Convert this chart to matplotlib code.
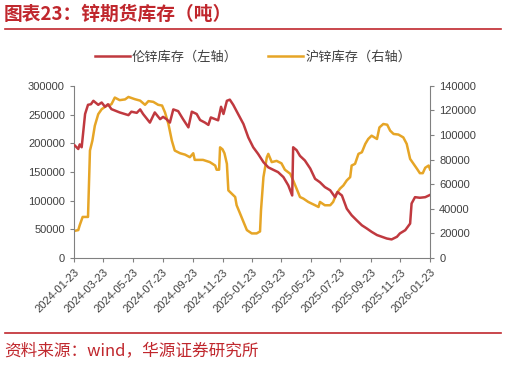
import numpy as np
import pandas as pd
import matplotlib
matplotlib.use('Agg')
import matplotlib.pyplot as plt
from matplotlib.lines import Line2D

plt.rcParams['font.family'] = ['Liberation Sans', 'Noto Sans CJK SC', 'DejaVu Sans']

# LME zinc stock (left axis)
lme_dates = ['2024-01-25', '2024-02-01', '2024-02-04', '2024-02-08', '2024-02-15', '2024-02-21',
             '2024-02-27', '2024-03-03', '2024-03-13', '2024-03-20', '2024-03-27', '2024-04-02',
             '2024-04-09', '2024-04-26', '2024-05-14', '2024-05-20', '2024-05-31', '2024-06-07',
             '2024-06-13', '2024-06-27', '2024-07-07', '2024-07-18', '2024-07-24', '2024-07-31',
             '2024-08-07', '2024-08-14', '2024-08-24', '2024-09-03', '2024-09-14', '2024-09-21',
             '2024-10-01', '2024-10-08', '2024-10-18', '2024-10-25', '2024-10-30', '2024-11-08',
             '2024-11-14', '2024-11-20', '2024-11-25', '2024-12-02', '2024-12-08', '2024-12-15',
             '2024-12-25', '2025-01-05', '2025-01-15', '2025-01-25', '2025-02-04', '2025-02-15',
             '2025-02-25', '2025-03-07', '2025-03-17', '2025-03-28', '2025-04-07', '2025-04-15',
             '2025-04-17', '2025-04-24', '2025-05-01', '2025-05-11', '2025-05-22', '2025-06-01',
             '2025-06-11', '2025-06-21', '2025-07-02', '2025-07-12', '2025-07-17', '2025-07-26',
             '2025-08-05', '2025-08-15', '2025-08-25', '2025-09-05', '2025-09-15', '2025-09-25',
             '2025-10-06', '2025-10-16', '2025-10-26', '2025-11-05', '2025-11-16', '2025-11-22',
             '2025-12-03', '2025-12-13', '2025-12-16', '2025-12-23', '2026-01-02', '2026-01-13',
             '2026-01-23']
lme_stock = [196000, 190000, 198000, 193000, 251000, 267000,
             268000, 274000, 267000, 271000, 263500, 268000,
             259500, 253700, 249000, 255000, 253000, 259000,
             251000, 236000, 253700, 242000, 246000, 242000,
             236000, 259000, 256000, 242000, 227700, 255000,
             251000, 240500, 236000, 232000, 245000, 242000,
             240000, 263500, 251000, 274000, 276000, 267000,
             251000, 233500, 210000, 193000, 181500, 167000,
             158000, 153800, 149700, 141000, 126600, 109000,
             193000, 188000, 178000, 170000, 156000, 138000,
             132000, 123600, 118000, 106000, 115000, 109000,
             86000, 74500, 66000, 57000, 51500, 45600,
             40000, 37000, 34000, 32400, 37000, 42800,
             48500, 60000, 95000, 106000, 105000, 106000,
             110000]

# SHFE zinc stock (right axis)
shfe_dates = ['2024-01-25', '2024-02-01', '2024-02-04', '2024-02-10', '2024-02-21', '2024-02-25',
              '2024-03-01', '2024-03-06', '2024-03-13', '2024-03-20', '2024-03-30', '2024-04-09',
              '2024-04-16', '2024-04-26', '2024-05-07', '2024-05-14', '2024-05-27', '2024-06-07',
              '2024-06-17', '2024-06-24', '2024-07-04', '2024-07-14', '2024-07-22', '2024-07-28',
              '2024-08-04', '2024-08-11', '2024-08-17', '2024-08-28', '2024-09-07', '2024-09-17',
              '2024-09-24', '2024-09-27', '2024-10-14', '2024-10-28', '2024-11-08', '2024-11-11',
              '2024-11-16', '2024-11-18', '2024-11-23', '2024-11-27', '2024-12-02', '2024-12-05',
              '2024-12-12', '2024-12-19', '2024-12-22', '2024-12-29', '2025-01-05', '2025-01-12',
              '2025-01-22', '2025-02-01', '2025-02-08', '2025-02-10', '2025-02-15', '2025-02-22',
              '2025-02-25', '2025-03-04', '2025-03-14', '2025-03-24', '2025-03-31', '2025-04-11',
              '2025-04-17', '2025-04-24', '2025-05-01', '2025-05-08', '2025-05-18', '2025-06-01',
              '2025-06-08', '2025-06-11', '2025-06-21', '2025-07-02', '2025-07-08', '2025-07-15',
              '2025-07-22', '2025-07-29', '2025-08-05', '2025-08-12', '2025-08-15', '2025-08-22',
              '2025-08-29', '2025-09-05', '2025-09-12', '2025-09-18', '2025-09-25', '2025-10-06',
              '2025-10-11', '2025-10-19', '2025-10-27', '2025-11-02', '2025-11-09', '2025-11-19',
              '2025-11-29', '2025-12-06', '2025-12-13', '2025-12-20', '2025-12-27', '2026-01-02',
              '2026-01-08', '2026-01-13', '2026-01-20', '2026-01-23']
shfe_stock = [22100, 22700, 26700, 33400, 33400, 87400,
              95500, 107600, 117000, 121000, 123800, 125000,
              130500, 128400, 129000, 131000, 129200, 128000,
              124600, 127600, 127000, 124600, 124000, 118400,
              109000, 95500, 87400, 85200, 84100, 82000,
              85200, 79800, 79800, 78000, 75200, 71800,
              71800, 90000, 88400, 85200, 76600, 55000,
              52300, 49600, 42900, 36200, 29400, 22700,
              20000, 20000, 21600, 38800, 65800, 82000,
              84700, 78000, 79000, 77000, 71800, 68500,
              63100, 56400, 49600, 48300, 45600, 42900,
              41500, 45600, 42900, 42900, 45600, 52300,
              56400, 59000, 63100, 65800, 75200, 76600,
              84700, 86000, 92800, 96800, 99500, 96800,
              106200, 109000, 108400, 103600, 100900, 100400,
              98100, 92800, 80600, 76600, 72600, 69000,
              69000, 73400, 75200, 72000]

tick_dates = ['2024-01-23', '2024-03-23', '2024-05-23', '2024-07-23', '2024-09-23', '2024-11-23',
              '2025-01-23', '2025-03-23', '2025-05-23', '2025-07-23', '2025-09-23', '2025-11-23',
              '2026-01-23']

red = '#C0393F'
gold = '#E6A526'
title_red = '#C0272D'
grey = '#404040'

fig = plt.figure(figsize=(5.06, 3.67), dpi=100)
ax = fig.add_axes([0.146, 0.297, 0.704, 0.469])
ax2 = ax.twinx()

ax.plot(pd.to_datetime(lme_dates), lme_stock, color=red, lw=1.8, zorder=3)
ax2.plot(pd.to_datetime(shfe_dates), shfe_stock, color=gold, lw=1.8)
ax.set_zorder(ax2.get_zorder() + 1)
ax.patch.set_visible(False)

ax.set_xlim(pd.Timestamp('2024-01-23'), pd.Timestamp('2026-01-23'))
ax.set_ylim(0, 300000)
ax2.set_ylim(0, 140000)
ax.set_yticks(np.arange(0, 300001, 50000))
ax2.set_yticks(np.arange(0, 140001, 20000))
ax.set_xticks(pd.to_datetime(tick_dates))
ax.set_xticklabels(tick_dates, rotation=45, ha='right', rotation_mode='anchor')

for a in (ax, ax2):
    a.spines['top'].set_visible(False)
    for s in ('left', 'right', 'bottom'):
        a.spines[s].set_color('#808080')
        a.spines[s].set_linewidth(0.8)
    a.tick_params(labelsize=8, colors='#808080', labelcolor=grey, length=3, width=0.8)
ax.spines['right'].set_visible(False)
ax2.spines['left'].set_visible(False)
ax2.spines['bottom'].set_visible(False)

# legend on top
handles = [Line2D([], [], color=red, lw=1.8), Line2D([], [], color=gold, lw=1.8)]
fig.legend(handles, ['伦锌库存（左轴）', '沪锌库存（右轴）'], loc='center', ncol=2,
           bbox_to_anchor=(0.5, 0.845), frameon=False, handlelength=2.65,
           columnspacing=2.3, handletextpad=0.15, labelcolor=grey,
           prop={'family': ['Noto Sans CJK SC'], 'size': 9.5})

# title and footer
fig.text(0.008, 0.962, '图表23：锌期货库存（吨）', color=title_red, fontsize=13.5,
         fontweight='bold', family=['Noto Sans CJK SC'], va='center', ha='left')
fig.add_artist(Line2D([0.01, 0.99], [0.92, 0.92], color=title_red, lw=1.2))
fig.add_artist(Line2D([0.01, 0.99], [0.092, 0.092], color=title_red, lw=1.2))
fig.text(0.008, 0.043, '资料来源：wind，华源证券研究所', color=title_red, fontsize=12,
         family=['Noto Sans CJK SC'], va='center', ha='left')

fig.savefig('out.png', dpi=100)
